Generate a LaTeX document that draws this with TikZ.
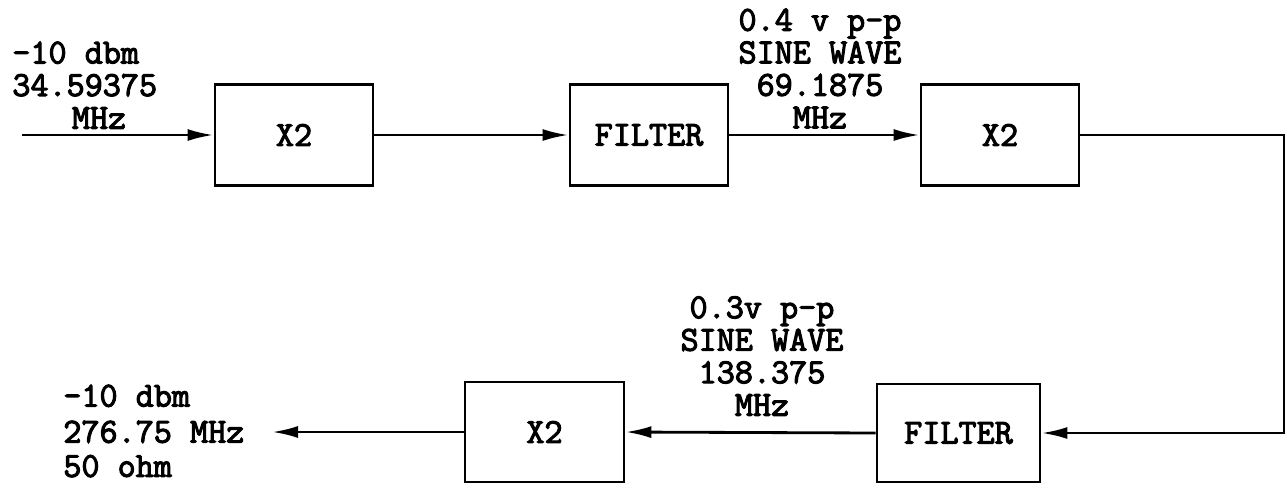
\documentclass[tikz,border=0pt]{standalone}
\usepackage{fontspec}
\newfontfamily\typefont{Latin Modern Mono}[FakeBold=3]
\usetikzlibrary{positioning,calc,arrows.meta}

\begin{document}
\begin{tikzpicture}[
    blk/.style={draw, line width=1.6pt, font=\fontsize{20}{20}\typefont\bfseries, minimum width=3.16cm, minimum height=2.02cm, inner sep=0pt},
    lbl/.style={font=\fontsize{20}{18.5}\typefont\bfseries, align=center, inner sep=0pt},
    sig/.style={-{Latex[length=0.52cm,width=0.24cm]}, line width=1.6pt}
]
\useasboundingbox (0,0) rectangle (25.74,-9.66);

% ---- upper chain ----
\node[blk] (dblA) at (5.88,-2.7) {X2};
\node[blk] (filtA) at (12.98,-2.7) {FILTER};
\node[blk] (dblB) at (20.0,-2.7) {X2};

% ---- lower chain ----
\node[blk, minimum width=3.26cm, minimum height=1.96cm] (filtB) at (19.17,-8.66) {FILTER};
\node[blk, minimum width=3.18cm, minimum height=2.0cm] (dblC) at (10.89,-8.64) {X2};

% ---- ends ----
\coordinate (inp) at (0.44,-2.7);
\coordinate (rt) at (25.68,-8.66);
\coordinate (outp) at (5.44,-8.64);

% ---- labels ----
\node[lbl, align=left, anchor=west] (inlbl) at (0.24,-1.38) {-10 dbm\\34.59375};
\node[lbl] (inmhz) at (1.98,-2.36) {MHz};
\node[lbl] (midlbl) at (16.4,-1.37) {0.4 v p-p\\SINE WAVE\\69.1875\\MHz};
\node[lbl] (lowlbl) at (15.24,-7.12) {0.3v p-p\\SINE WAVE\\138.375\\MHz};
\node[lbl, align=left, anchor=west] (outlbl) at (1.26,-8.62) {-10 dbm\\[2pt]276.75 MHz\\[1pt]50 ohm};

% Signal path
\draw[sig] (inp) -- (dblA.west);
\draw[sig] (dblA.east) -- (filtA.west);
\draw[sig] (filtA.east) -- (dblB.west);
\draw[sig] (dblB.east) -| (rt) -- (filtB.east);
\draw[sig] (filtB.west) -- (dblC.east);
\draw[sig] (dblC.west) -- (outp);
\end{tikzpicture}
\end{document}
